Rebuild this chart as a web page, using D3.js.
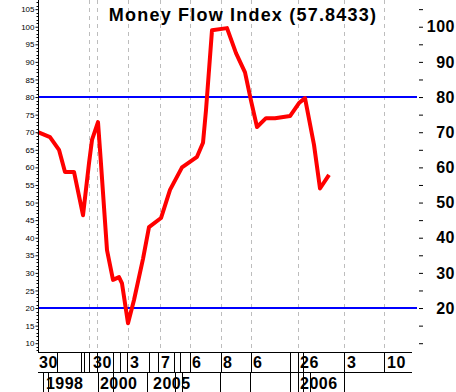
<!DOCTYPE html>
<html><head><meta charset="utf-8">
<script src="https://cdn.jsdelivr.net/npm/d3@7"></script>
<style>html,body{margin:0;padding:0;background:#fff;}svg{display:block;}</style>
</head><body>
<svg id="c" width="456" height="392"></svg>
<script>
// Data: bar index (non-uniform trading time axis) and MFI value
const barIndex = [0, 4, 7, 9, 12, 15, 17, 18, 20, 21, 22, 23, 25, 27, 28, 30, 32, 35, 37, 41, 44, 48, 53, 55, 56, 58, 63, 66, 69, 71, 73, 76, 79, 84, 87, 89, 92, 94, 97];
const mfiValues = [70.0, 68.6, 65, 58.7, 58.7, 46.4, 61.2, 67.8, 72.9, 61, 48.7, 36.5, 28, 28.8, 27, 15.7, 22.3, 34, 43, 45.6, 53.6, 60, 63, 67, 76.3, 99, 99.6, 92.5, 87, 79, 71.5, 74, 74, 74.6, 78.3, 79.7, 66.4, 54, 57.8433];
const levels = [80, 20];
const gridBars = [17, 19.7, 30, 40.7, 50.7, 61, 71, 86.7, 102, 115.3];
const row1Lines = [6.3, 14.3, 15.3, 17, 19.7, 25, 27.3, 29.7, 37, 40, 45.3, 47.3, 50.7, 61, 71, 84, 86.7, 88.3, 102, 115.3];
const row1Labels = [[0, "30"], [18, "30"], [30.3, "3"], [40.7, "7"], [51, "6"], [61.3, "8"], [71.3, "6"], [87, "26"], [102.7, "3"], [116, "10"]];
const row2Lines = [1.7, 3.3, 20, 25, 36.3, 45.7, 48, 60.7, 70.7, 84, 86.7, 88.3, 90.7, 102];
const row2Labels = [[2.3, "1998"], [20.3, "2000"], [38, "2005"], [87, "2006"]];
const title = "Money Flow Index (57.8433)";

const svg = d3.select("#c");
const L = 38, R = 417, T = 0, B = 352;
const FONT = "Liberation Sans, Arial, sans-serif";
const x = d3.scaleLinear().domain([0, 126.33]).range([L, R]);
const y = d3.scaleLinear().domain([7.5, 107.6]).range([B, T]);

// gridlines
svg.append("g").selectAll("line").data(gridBars).join("line")
  .attr("x1", d => Math.round(x(d)) + 0.5).attr("x2", d => Math.round(x(d)) + 0.5)
  .attr("y1", T).attr("y2", B)
  .attr("stroke", "#bdbdbd").attr("stroke-dasharray", "4,4").attr("stroke-width", 1);

// level lines
svg.append("g").selectAll("line").data(levels).join("line")
  .attr("x1", L).attr("x2", R)
  .attr("y1", d => y(d)).attr("y2", d => y(d))
  .attr("stroke", "#0000ff").attr("stroke-width", 2);

// MFI line
const pts = barIndex.map((b, i) => [b, mfiValues[i]]);
svg.append("path").datum(pts)
  .attr("d", d3.line().x(d => x(d[0])).y(d => y(d[1])))
  .attr("fill", "none").attr("stroke", "#ff0000").attr("stroke-width", 4)
  .attr("stroke-linejoin", "round");

// left axis
const leftAxis = d3.axisLeft(y).tickValues(d3.range(10, 106, 5)).tickSize(3).tickFormat(d3.format("d"));
const la = svg.append("g").attr("transform", `translate(${L + 0.5},0)`).call(leftAxis);
la.select(".domain").attr("d", `M0,${T}V${B}`);
la.selectAll("text").attr("font-family", FONT).attr("font-size", 8).attr("fill", "#000").attr("x", -4);
// minor ticks
la.append("g").selectAll("line").data(d3.range(8, 108, 1).filter(v => v % 5 !== 0)).join("line")
  .attr("x1", -2).attr("x2", 0).attr("y1", d => Math.round(y(d)) + 0.5).attr("y2", d => Math.round(y(d)) + 0.5)
  .attr("stroke", "#000");

// right axis
const rightAxis = d3.axisRight(y).tickValues(d3.range(10, 106, 5)).tickSize(4)
  .tickFormat(d => (d % 10 === 0 && d >= 20 && d <= 100) ? d : "");
const ra = svg.append("g").attr("transform", `translate(${R + 2},0)`).call(rightAxis);
ra.select(".domain").remove();
ra.selectAll("text").attr("font-family", FONT).attr("font-weight", "bold")
  .attr("font-size", 16).attr("fill", "#000").attr("text-anchor", "end").attr("x", 36)
  .attr("letter-spacing", 0.5);

// title
svg.append("text").attr("x", 243).attr("y", 21).attr("text-anchor", "middle")
  .attr("font-family", FONT).attr("font-weight", "bold").attr("font-size", 18)
  .attr("letter-spacing", 1.2)
  .text(title);

// bottom band
svg.append("line").attr("x1", L).attr("x2", R - 5).attr("y1", B + 0.5).attr("y2", B + 0.5).attr("stroke", "#000");
svg.append("line").attr("x1", L).attr("x2", R - 5).attr("y1", 372.5).attr("y2", 372.5).attr("stroke", "#000");
svg.append("g").selectAll("line").data(row1Lines).join("line")
  .attr("x1", d => Math.round(x(d)) + 0.5).attr("x2", d => Math.round(x(d)) + 0.5)
  .attr("y1", B).attr("y2", 372).attr("stroke", "#000");
svg.append("g").selectAll("line").data(row2Lines).join("line")
  .attr("x1", d => Math.round(x(d)) + 0.5).attr("x2", d => Math.round(x(d)) + 0.5)
  .attr("y1", 372).attr("y2", 392).attr("stroke", "#000");
svg.append("g").selectAll("text").data(row1Labels).join("text")
  .attr("x", d => x(d[0]) + 1).attr("y", 368)
  .attr("font-family", FONT).attr("font-weight", "bold").attr("font-size", 16).attr("letter-spacing", 0.5)
  .text(d => d[1]);
svg.append("g").selectAll("text").data(row2Labels).join("text")
  .attr("x", d => x(d[0]) + 1).attr("y", 389)
  .attr("font-family", FONT).attr("font-weight", "bold").attr("font-size", 16).attr("letter-spacing", 0.5)
  .text(d => d[1]);
</script>
</body></html>
